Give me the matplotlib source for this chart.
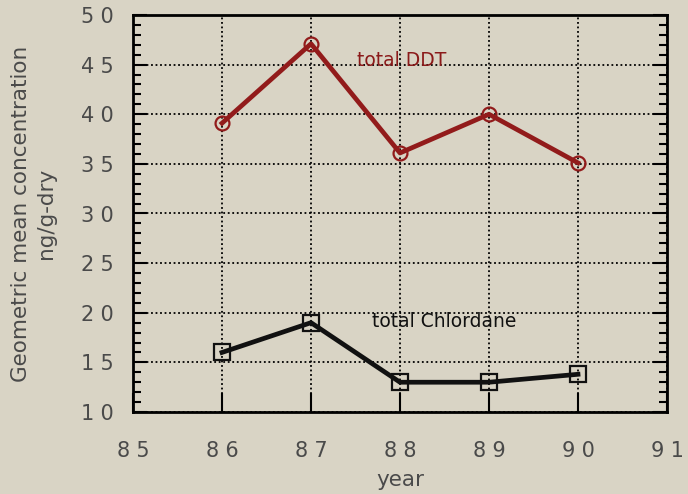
import matplotlib
matplotlib.use("Agg")
import matplotlib.pyplot as plt
from matplotlib.ticker import MultipleLocator, FuncFormatter

years = [86, 87, 88, 89, 90]
ddt = [39.1, 47.1, 36.1, 40.0, 35.1]
chlordane = [16.0, 19.0, 13.0, 13.0, 13.8]

bg = "#d9d4c5"
plt.rcParams['font.family'] = ['DejaVu Sans']

fig = plt.figure(figsize=(6.88, 4.94), dpi=100, facecolor=bg)
ax = fig.add_axes([133/688, 1-412/494, (667-133)/688, (412-15)/494])
ax.set_facecolor(bg)

ax.plot(years, ddt, color="#921b1b", lw=3.4, marker="o", ms=10,
        mfc="none", mec="#921b1b", mew=1.6, zorder=3)
ax.plot(years, chlordane, color="#111111", lw=3.4, marker="s", ms=11,
        mfc="none", mec="#111111", mew=1.6, zorder=3)

ax.text(87.52, 45.4, "total DDT", color="#8b1a1a", fontsize=13.5,
        va="center", ha="left")
ax.text(87.68, 19.1, "total Chlordane", color="#111111", fontsize=13.5,
        va="center", ha="left")

ax.set_xlim(85, 91)
ax.set_ylim(10, 50)
ax.xaxis.set_major_locator(MultipleLocator(1))
ax.yaxis.set_major_locator(MultipleLocator(5))
ax.yaxis.set_minor_locator(MultipleLocator(1))

# spread the digits a little, like the original typeset labels
spaced = FuncFormatter(lambda v, p: "\u2009\u200a".join(str(int(round(v)))))
ax.xaxis.set_major_formatter(spaced)
ax.yaxis.set_major_formatter(spaced)

ax.grid(True, which="major", color="black", linestyle=(0, (1, 1.5)), lw=1.3)
ax.tick_params(axis="x", which="major", direction="in", length=14, width=1.5,
               pad=21, labelsize=15, labelcolor="#4a4a4a", top=False)
ax.tick_params(axis="y", which="major", direction="in", length=10, width=1.5,
               pad=14, labelsize=15, labelcolor="#4a4a4a", right=True)
ax.tick_params(axis="y", which="minor", direction="in", length=6, width=1.5,
               right=True)
for s in ax.spines.values():
    s.set_linewidth(2)

ax.set_xlabel("year", fontsize=15.5, color="#4a4a4a", labelpad=6)
ax.set_ylabel("Geometric mean concentration\nng/g-dry", fontsize=15.5,
              color="#4a4a4a", linespacing=1.3)
ax.yaxis.set_label_coords(-0.145, 0.5)

fig.savefig("out.png", dpi=100, facecolor=bg)
